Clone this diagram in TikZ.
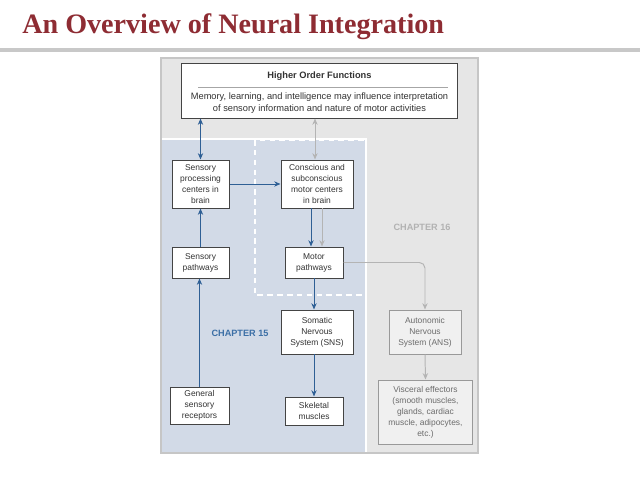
\documentclass[tikz,border=0pt]{standalone}
\usepackage{fontspec}
\setmainfont{Liberation Sans}
\newfontfamily\titlefont{Liberation Serif}
\usetikzlibrary{arrows.meta}

\definecolor{titlered}{HTML}{8E2C33}
\definecolor{rulegray}{HTML}{C8C8C8}
\definecolor{panelfill}{HTML}{E6E6E6}
\definecolor{panelline}{HTML}{C6C6C6}
\definecolor{regionblue}{HTML}{D2DAE7}
\definecolor{linkblue}{HTML}{2E5F95}
\definecolor{linkgray}{HTML}{B4B4B4}
\definecolor{boxline}{HTML}{444444}
\definecolor{boxtext}{HTML}{333333}
\definecolor{chapblue}{HTML}{3C6FA6}

\begin{document}
\begin{tikzpicture}[x=0.025cm,y=-0.025cm,
  box/.style={draw=boxline, fill=white, line width=0.7pt, inner sep=0pt, align=center,
    text=boxtext, font=\fontsize{6}{7.8}\selectfont},
  greybox/.style={box, draw=gray!80, fill=gray!12, text=gray!85!black},
  tip/.style={-{Stealth[length=4.5pt,width=3.8pt]}},
  bothtips/.style={{Stealth[length=4.5pt,width=3.8pt]}-{Stealth[length=4.5pt,width=3.8pt]}},
  bluelink/.style={draw=linkblue, line width=0.7pt, tip},
  greylink/.style={draw=linkgray, line width=0.7pt, tip},
  chapter/.style={font=\fontsize{6.5}{7.8}\selectfont\bfseries}]
\useasboundingbox (0,0) rectangle (640,480);

% title and rule
\node[anchor=base west, inner sep=0pt, text=titlered, font=\titlefont\bfseries\fontsize{20}{24}\selectfont] (title) at (22,33) {An Overview of Neural Integration};
\fill[rulegray] (0,48) rectangle (640,52);

% panel and regions
\draw[fill=panelfill, draw=panelline, line width=1.4pt] (161,58) rectangle (478,453);
\fill[regionblue] (162,139) rectangle (366,452);
\draw[white, line width=1.2pt] (162,139) -- (366,139) -- (366,452);
\draw[white, line width=1.6pt, dash pattern=on 4pt off 3pt] (255,140) rectangle (366,295);

% higher order functions
\node[box, minimum width=6.875cm, minimum height=1.375cm] (hof) at (319.5,90.5) {};
\node[text=boxtext, font=\fontsize{6.6}{7.8}\selectfont\bfseries] (hoftitle) at (319.5,76) {Higher Order Functions};
\draw[gray!70, line width=0.5pt] (198,87) -- (448,87);
\node[align=center, text=boxtext, font=\fontsize{6.6}{8.2}\selectfont] (hofbody) at (319.5,103) {Memory, learning, and intelligence may influence interpretation\\of sensory information and nature of motor activities};

% boxes
\node[box, minimum width=1.425cm, minimum height=1.2cm] (sensproc) at (200.5,184) {Sensory\\processing\\centers in\\brain};
\node[box, minimum width=1.8cm, minimum height=1.2cm] (motcent) at (317,184) {Conscious and\\subconscious\\motor centers\\in brain};
\node[box, minimum width=1.425cm, minimum height=0.775cm] (senspath) at (200.5,262.5) {Sensory\\pathways};
\node[box, minimum width=1.45cm, minimum height=0.775cm] (motpath) at (314,262.5) {Motor\\pathways};
\node[box, minimum width=1.8cm, minimum height=1.1cm] (sns) at (317,332) {Somatic\\Nervous\\System (SNS)};
\node[box, minimum width=1.45cm, minimum height=0.7cm] (skel) at (314,411) {Skeletal\\muscles};
\node[box, minimum width=1.475cm, minimum height=0.925cm] (receptors) at (199.5,405.5) {General\\sensory\\receptors};
\node[greybox, minimum width=1.8cm, minimum height=1.1cm] (ans) at (425,332) {Autonomic\\Nervous\\System (ANS)};
\node[greybox, minimum width=2.325cm, minimum height=1.6cm] (visc) at (425.5,412) {Visceral effectors\\(smooth muscles,\\glands, cardiac\\muscle, adipocytes,\\etc.)};

% chapter labels
\node[chapter, text=gray!60] (ch16) at (422,227) {CHAPTER 16};
\node[chapter, text=chapblue] (ch15) at (240,333) {CHAPTER 15};

% connections
\draw[bluelink, bothtips] (sensproc.north |- hof.south) -- (sensproc.north);
\draw[greylink, bothtips] ([xshift=-0.05cm]motcent.north |- hof.south) -- ([xshift=-0.05cm]motcent.north);
\draw[bluelink] (sensproc.east) -- (motcent.west);
\draw[bluelink] ([xshift=-0.15cm]motcent.south) -- ([xshift=-0.15cm]motcent.south |- motpath.north);
\draw[greylink] ([xshift=0.125cm]motcent.south) -- ([xshift=0.125cm]motcent.south |- motpath.north);
\draw[bluelink] (senspath.north) -- (sensproc.south);
\draw[bluelink] (receptors.north) -- (receptors.north |- senspath.south);
\draw[bluelink] (motpath.south) -- (motpath.south |- sns.north);
\draw[bluelink] (skel.north |- sns.south) -- (skel.north);
\draw[greylink, rounded corners=4pt] (motpath.east) -| (ans.north);
\draw[greylink] (ans.south) -- (visc.north);
\end{tikzpicture}
\end{document}
